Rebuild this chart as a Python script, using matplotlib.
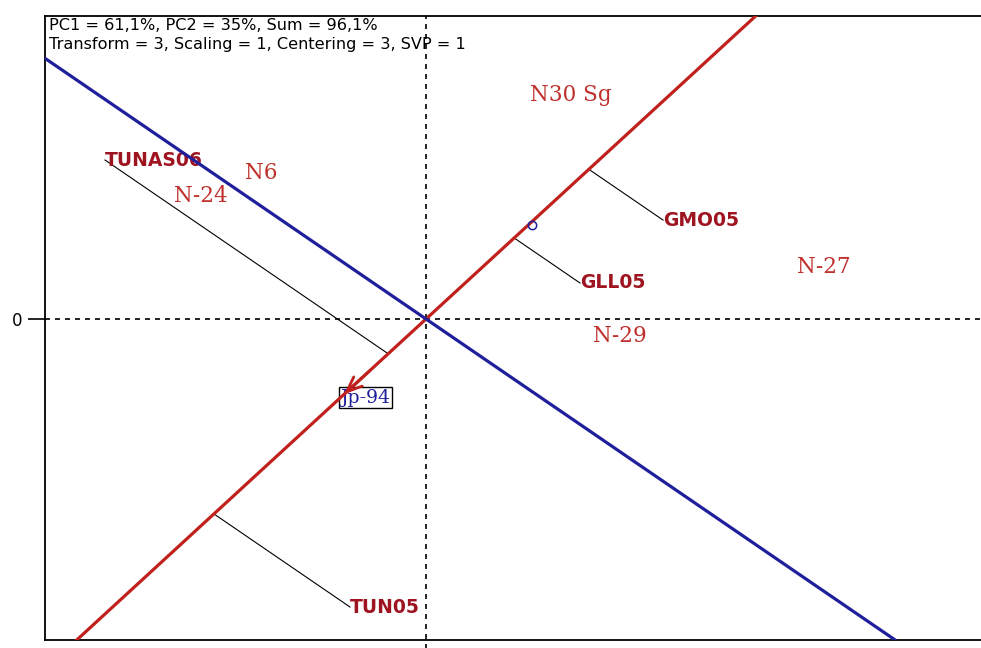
import numpy as np
import matplotlib
matplotlib.use("Agg")
import matplotlib.pyplot as plt

# GGE biplot, mean vs. stability view
header = ["PC1 = 61,1%, PC2 = 35%, Sum = 96,1%",
          "Transform = 3, Scaling = 1, Centering = 3, SVP = 1"]

# genotype scores (PC1, PC2)
genotypes = ["TUNAS06", "GMO05", "GLL05", "TUN05"]
gen_pc1 = [-3.21, 2.37, 1.54, -0.76]
gen_pc2 = [2.005, 1.248, 0.454, -3.632]

# environment scores (PC1, PC2)
environments = ["N30 Sg", "N6", "N-24", "N-27", "N-29", "Jp-94"]
env_pc1 = [1.45, -1.65, -2.25, 3.98, 1.94, -0.605]
env_pc2 = [2.825, 1.84, 1.551, 0.656, -0.214, -0.996]

# average environment coordinate and ATC axis direction
mean_env = (1.06, 1.18)
atc_dir = np.array([1.0, 1.159])
arrow_tip_pc1 = -0.84

xlim = (-3.81, 5.56)
ylim = (-4.048, 3.821)

red = "#c0211c"
blue = "#1f1f9c"
gen_color = "#9e1420"
env_color = "#c0302c"

fig = plt.figure(figsize=(9.81, 6.48), dpi=100)
ax = fig.add_axes([45 / 981, 8 / 648, 937 / 981, 624 / 648])
ax.set_xlim(*xlim)
ax.set_ylim(*ylim)

for s in ax.spines.values():
    s.set_linewidth(1.3)
ax.spines["right"].set_visible(False)

ax.set_yticks([0])
ax.set_yticklabels(["0"], fontsize=12)
ax.set_xticks([])
ax.tick_params(axis="y", length=12, width=1.2, pad=4)

# reference lines through origin
ax.axhline(0, color="black", lw=1.2, ls=(0, (3, 3)), zorder=1)
ax.axvline(0, ymin=-0.02, ymax=1, color="black", lw=1.2, ls=(0, (3, 3)),
           clip_on=False, zorder=1)

# ATC abscissa and ordinate
slope = atc_dir[1] / atc_dir[0]
ax.axline((0, 0), slope=slope, color=red, lw=2.3, zorder=4)
ax.axline((0, 0), slope=-1 / slope, color=blue, lw=2.3, zorder=4)

# projections of genotypes onto the ATC abscissa
u = atc_dir / np.linalg.norm(atc_dir)
for name, x, y in zip(genotypes, gen_pc1, gen_pc2):
    t = x * u[0] + y * u[1]
    ax.plot([x, t * u[0]], [y, t * u[1]], color="black", lw=0.8, zorder=2)
    ax.text(x, y, name, color=gen_color, fontsize=13.5, fontweight="bold",
            family="DejaVu Sans", ha="left", va="center", zorder=3)

for name, x, y in zip(environments, env_pc1, env_pc2):
    if name == "Jp-94":
        ax.text(x, y, name, color=blue, fontsize=13.5, family="DejaVu Serif",
                ha="center", va="center", zorder=3,
                bbox=dict(boxstyle="square,pad=0.08", fc="white", ec="black", lw=1))
    else:
        ax.text(x, y, name, color=env_color, fontsize=15.5, family="DejaVu Serif",
                ha="center", va="center", zorder=3)

ax.plot(*mean_env, "o", ms=6, mfc="none", mec=blue, mew=1.1, zorder=5)

tip = (arrow_tip_pc1, arrow_tip_pc1 * slope)
tail = (arrow_tip_pc1 + 0.3, (arrow_tip_pc1 + 0.3) * slope)
ax.annotate("", xy=tip, xytext=tail, zorder=6,
            arrowprops=dict(arrowstyle="->,head_length=1.1,head_width=0.45",
                            color=red, lw=2))

ax.text(0.004, 0.996, "\n".join(header), transform=ax.transAxes, fontsize=11.6,
        ha="left", va="top", linespacing=1.32, zorder=7)

fig.savefig("out.png", dpi=100)
